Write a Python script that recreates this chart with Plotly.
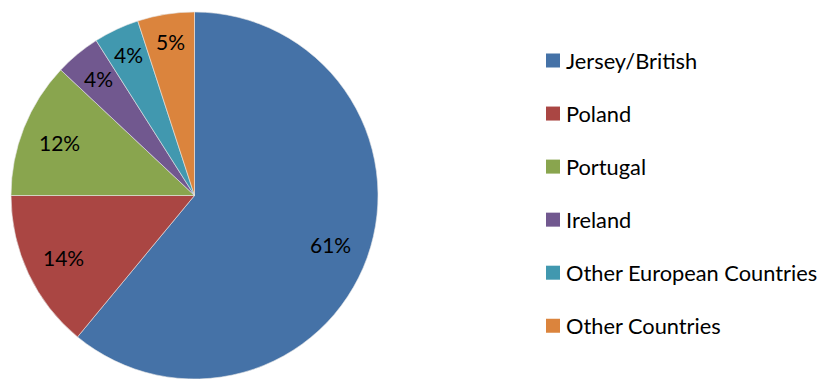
import math
import plotly.graph_objects as go

# Share of population by country of origin
categories = ["Jersey/British", "Poland", "Portugal", "Ireland",
              "Other European Countries", "Other Countries"]
shares = [61, 14, 12, 4, 4, 5]
colors = ["#4572A7", "#AA4643", "#89A54E", "#71588F", "#4198AF", "#DB843D"]

# radial position of each percentage label, as a fraction of the pie radius
label_radius = [0.79, 0.79, 0.79, 0.825, 0.85, 0.85]

FONT = "Lato"
W, H = 820, 379
M_L, M_R, M_T, M_B = 0, 0, 12, 0
PLOT_W = W - M_L - M_R
PLOT_H = H - M_T - M_B

PIE_X = [0.0, 389 / PLOT_W]
PIE_Y = [0.0, 1.0]

fig = go.Figure(
    go.Pie(
        labels=categories,
        values=shares,
        marker=dict(colors=colors, line=dict(color="#E6E6E6", width=0.6)),
        sort=False,
        direction="clockwise",
        rotation=0,
        textinfo="none",
        domain=dict(x=PIE_X, y=PIE_Y),
        hoverinfo="label+percent",
        showlegend=False,
    )
)

# pie geometry in pixels (radius is half the smaller domain side)
cx = M_L + PLOT_W * (PIE_X[0] + PIE_X[1]) / 2
cy = M_T + PLOT_H * (1 - (PIE_Y[0] + PIE_Y[1]) / 2)
radius = min(PLOT_W * (PIE_X[1] - PIE_X[0]), PLOT_H * (PIE_Y[1] - PIE_Y[0])) / 2


def to_paper(px, py):
    return (px - M_L) / PLOT_W, (H - M_B - py) / PLOT_H


total = sum(shares)
annotations = []
cum = 0
for val, rf in zip(shares, label_radius):
    mid = (cum + val / 2) / total * 2 * math.pi  # clockwise from 12 o'clock
    cum += val
    px = cx + rf * radius * math.sin(mid)
    py = cy - rf * radius * math.cos(mid)
    x, y = to_paper(px, py)
    annotations.append(dict(
        x=x, y=y, xref="paper", yref="paper",
        text=f"{round(val / total * 100)}%",
        showarrow=False, xanchor="center", yanchor="middle",
        font=dict(family=FONT, size=21, color="#000000"),
    ))

# legend: colour swatch + label per category
shapes = []
LEG_X = 546
LEG_Y0 = 60.5
LEG_STEP = 53.05
SW = 14
for i, (name, col) in enumerate(zip(categories, colors)):
    yc = LEG_Y0 + i * LEG_STEP
    x0, y0 = to_paper(LEG_X, yc + SW / 2)
    x1, y1 = to_paper(LEG_X + SW, yc - SW / 2)
    shapes.append(dict(type="rect", xref="paper", yref="paper",
                       x0=x0, y0=y0, x1=x1, y1=y1,
                       fillcolor=col, line=dict(width=0)))
    tx, ty = to_paper(LEG_X + SW + 4, yc)
    annotations.append(dict(
        x=tx, y=ty, xref="paper", yref="paper", text=name,
        showarrow=False, xanchor="left", yanchor="middle",
        font=dict(family=FONT, size=21.8, color="#000000"),
    ))

fig.update_layout(
    width=W,
    height=H,
    margin=dict(l=M_L, r=M_R, t=M_T, b=M_B),
    paper_bgcolor="white",
    plot_bgcolor="white",
    font=dict(family=FONT, size=19, color="#000000"),
    annotations=annotations,
    shapes=shapes,
)

fig.write_html("out.html")
